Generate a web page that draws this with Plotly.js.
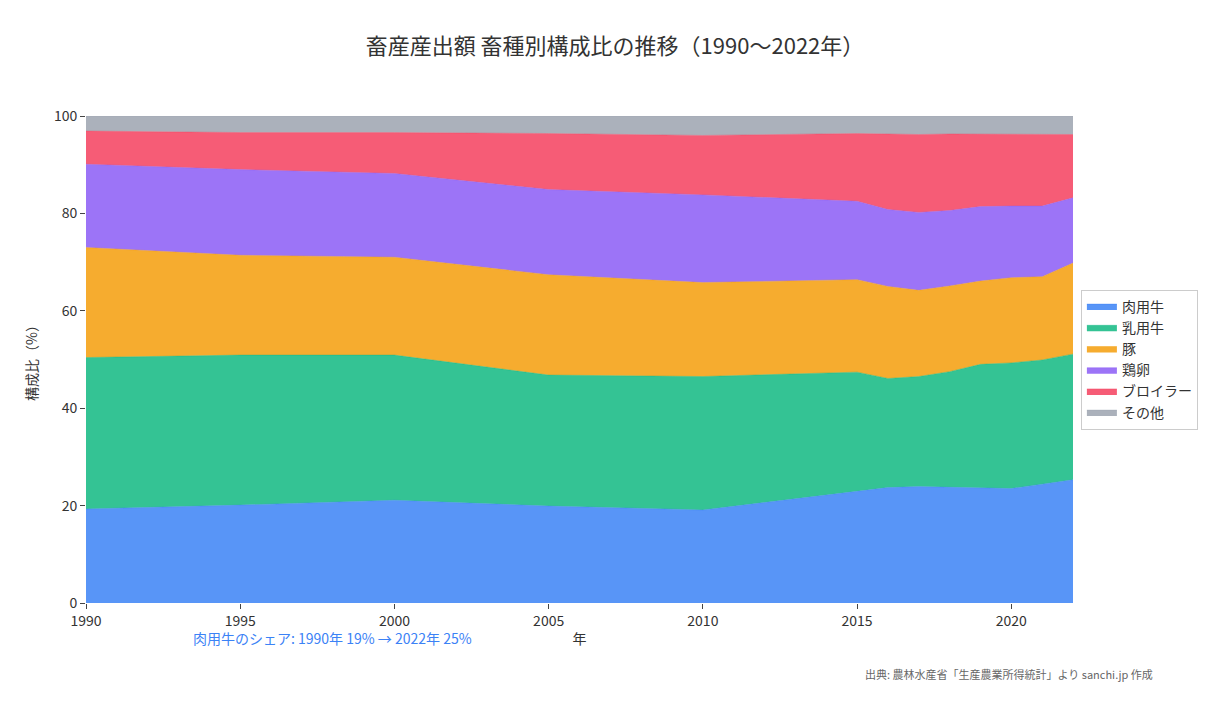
<!DOCTYPE html>
<html>
<head>
<meta charset="utf-8">
<script src="https://cdn.plot.ly/plotly-3.0.1.min.js"></script>
<style>
  body { margin: 0; background: #fff; }
  #chart { width: 1230px; height: 710px; }
</style>
</head>
<body>
<div id="chart"></div>
<script>
  // 年
  var years = [1990, 1995, 2000, 2005, 2010, 2015, 2016, 2017, 2018, 2019, 2020, 2021, 2022];

  // 構成比（%）
  var beefCattle = [19.3, 20.1, 21.1, 19.9, 19.1, 23.0, 23.7, 23.9, 23.8, 23.6, 23.5, 24.4, 25.3];
  var dairyCattle = [31.1, 30.8, 29.8, 26.9, 27.4, 24.4, 22.4, 22.6, 23.7, 25.4, 25.8, 25.5, 25.8];
  var pigs = [22.6, 20.5, 20.1, 20.6, 19.3, 19.0, 18.9, 17.7, 17.6, 17.1, 17.5, 17.1, 18.7];
  var eggs = [17.1, 17.6, 17.2, 17.5, 18.0, 16.1, 15.8, 16.0, 15.5, 15.3, 14.7, 14.5, 13.4];
  var broilers = [6.8, 7.6, 8.4, 11.5, 12.2, 13.9, 15.5, 16.0, 15.7, 14.9, 14.8, 14.7, 13.0];
  var others = [3.1, 3.4, 3.4, 3.6, 4.0, 3.6, 3.7, 3.8, 3.7, 3.7, 3.7, 3.8, 3.8];

  var names = ['肉用牛', '乳用牛', '豚', '鶏卵', 'ブロイラー', 'その他'];
  var series = [beefCattle, dairyCattle, pigs, eggs, broilers, others];
  var colors = [
    'rgba(59,130,246,0.85)',
    'rgba(16,185,129,0.85)',
    'rgba(245,158,11,0.85)',
    'rgba(139,92,246,0.85)',
    'rgba(244,63,94,0.85)',
    'rgba(156,163,175,0.85)'
  ];

  var data = series.map(function (vals, i) {
    return {
      x: years,
      y: vals,
      name: names[i],
      type: 'scatter',
      mode: 'lines',
      stackgroup: 'one',
      line: { width: 0.5, color: colors[i] },
      fillcolor: colors[i]
    };
  });

  var font = 'Noto Sans CJK JP, Noto Sans, sans-serif';

  var layout = {
    width: 1230,
    height: 710,
    margin: { l: 86, r: 157, t: 116, b: 107 },
    paper_bgcolor: '#fff',
    plot_bgcolor: '#fff',
    font: { family: font, size: 14, color: '#333' },
    title: {
      text: '畜産産出額 畜種別構成比の推移（1990〜2022年）',
      font: { family: font, size: 22, color: '#333' },
      x: 0.5,
      xanchor: 'center',
      y: 0.945
    },
    xaxis: {
      range: [1990, 2022],
      tick0: 1990,
      dtick: 5,
      ticks: 'outside',
      ticklen: 5,
      tickcolor: '#444',
      tickfont: { family: font, size: 14, color: '#333' },
      showgrid: false,
      zeroline: false,
      showline: false,
      title: { text: '年', font: { family: font, size: 14, color: '#333' }, standoff: 5 }
    },
    yaxis: {
      range: [0, 100],
      dtick: 20,
      ticks: 'outside',
      ticklen: 5,
      tickcolor: '#444',
      tickfont: { family: font, size: 14, color: '#333' },
      showgrid: false,
      zeroline: false,
      showline: false,
      title: { text: '構成比（%）', font: { family: font, size: 14, color: '#333' }, standoff: 12 }
    },
    legend: {
      x: 1.008,
      xanchor: 'left',
      y: 0.5,
      yanchor: 'middle',
      bgcolor: '#fff',
      bordercolor: '#ccc',
      borderwidth: 1,
      traceorder: 'normal',
      font: { family: font, size: 14, color: '#333' }
    },
    annotations: [
      {
        text: '肉用牛のシェア: 1990年 19% → 2022年 25%',
        xref: 'paper', yref: 'paper',
        x: 0.25, y: -0.072,
        xanchor: 'center', yanchor: 'middle',
        showarrow: false,
        font: { family: font, size: 14, color: '#3b82f6' }
      },
      {
        text: '出典: 農林水産省「生産農業所得統計」より sanchi.jp 作成',
        xref: 'paper', yref: 'paper',
        x: 1.083, y: -0.146,
        xanchor: 'right', yanchor: 'middle',
        showarrow: false,
        font: { family: font, size: 11, color: '#666' }
      }
    ],
    showlegend: true
  };

  Plotly.newPlot('chart', data, layout, { displayModeBar: false });
</script>
</body>
</html>
